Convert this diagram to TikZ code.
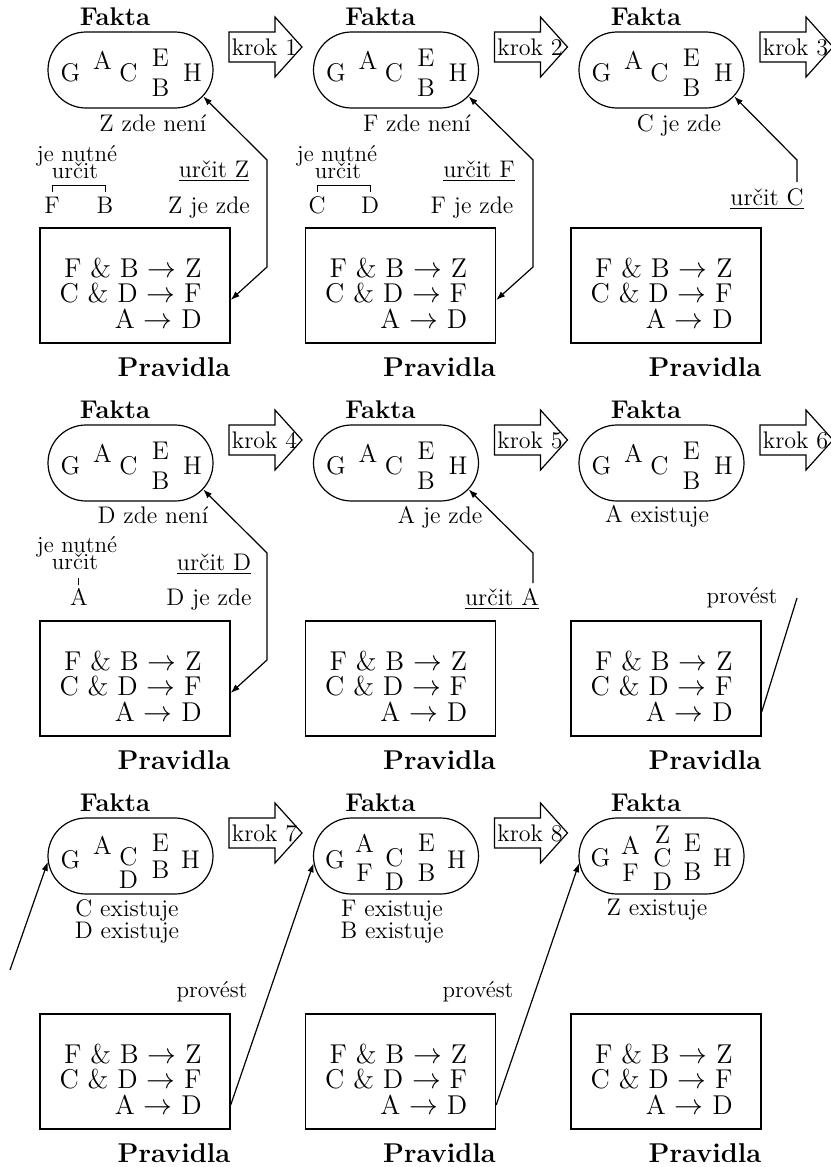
\documentclass[tikz,border=0pt]{standalone}
\usepackage{fontspec}
\usetikzlibrary{arrows.meta,shapes.misc,calc}
\newcommand\putletters[2]{\foreach \ltr/\dxx/\dyy in {#2}{\node[lt] (#1\ltr) at ($(#1)+(\dxx,\dyy)$) {\ltr};}}
\begin{document}
\begin{tikzpicture}[x=0.5pt,y=-0.5pt,
  stadium/.style={draw,line width=0.6pt,rounded rectangle,minimum width=82.5pt,minimum height=38pt,inner sep=0pt},
  rulebox/.style={draw,line width=0.7pt,minimum width=95pt,minimum height=57.5pt,inner sep=0pt},
  rules/.style={align=right,inner sep=0pt,font=\fontsize{13.6}{12.75}\selectfont},
  title/.style={inner sep=0pt,font=\fontsize{12.8}{14}\selectfont\bfseries},
  ptitle/.style={inner sep=0pt,font=\fontsize{13.6}{15}\selectfont\bfseries},
  lt/.style={inner sep=0pt,font=\fontsize{12.8}{14}\selectfont},
  lbl/.style={inner sep=0pt,anchor=base,font=\fontsize{12}{13}\selectfont},
  small/.style={inner sep=0pt,anchor=base,font=\fontsize{11.5}{13}\selectfont},
  kroktxt/.style={inner sep=0pt,font=\fontsize{12}{13}\selectfont},
  krokshape/.style={draw,line width=0.6pt,fill=white},
  conn/.style={line width=0.6pt,>={Latex[length=4.5pt,width=3.2pt]}},
  brk/.style={line width=0.5pt}
]
\useasboundingbox (0,0) rectangle (830,1167);

\foreach \r in {1,2,3}{
 \foreach \c in {1,2,3}{
  \pgfmathsetmacro\ex{130.5+265.5*(\c-1)}
  \pgfmathsetmacro\ey{70+393*(\r-1)}
  \node[stadium] (e\r\c) at (\ex,\ey) {};
  \node[title] (f\r\c) at (\ex-15.5,\ey-53) {Fakta};
  \node[rulebox] (b\r\c) at (\ex+4.5,\ey+215.5) {};
  \node[rules,anchor=east] (rt\r\c) at (\ex+71.5,\ey+223) {F \& B $\rightarrow$ Z\\C \& D $\rightarrow$ F\\A $\rightarrow$ D};
  \node[ptitle] (p\r\c) at (\ex+43.5,\ey+297) {Pravidla};
 }
}

\foreach \n/\r/\c in {1/1/1,2/1/2,3/1/3,4/2/1,5/2/2,6/2/3,7/3/1,8/3/2}{
  \pgfmathsetmacro\bx{229+265.5*(\c-1)}
  \pgfmathsetmacro\cy{47+393*(\r-1)}
  \draw[krokshape] (\bx,\cy-15) -- (\bx+46,\cy-15) -- (\bx+46,\cy-30) -- (\bx+73,\cy) -- (\bx+46,\cy+30) -- (\bx+46,\cy+15) -- (\bx,\cy+15) -- cycle;
  \node[kroktxt] (k\n) at (\bx+35.5,\cy) {krok \n};
}

\putletters{e11}{G/-60/3,A/-28/-10,C/-2/3,E/30/-12,B/30/18,H/62/3}
\putletters{e12}{G/-60/3,A/-28/-10,C/-2/3,E/30/-12,B/30/18,H/62/3}
\putletters{e13}{G/-60/3,A/-28/-10,C/-2/3,E/30/-12,B/30/18,H/62/3}
\putletters{e21}{G/-60/3,A/-28/-10,C/-2/3,E/30/-12,B/30/18,H/62/3}
\putletters{e22}{G/-60/3,A/-28/-10,C/-2/3,E/30/-12,B/30/18,H/62/3}
\putletters{e23}{G/-60/3,A/-28/-10,C/-2/3,E/30/-12,B/30/18,H/62/3}
\putletters{e31}{G/-60/4,A/-28/-11,C/-2/1,D/-2/24,E/30/-13,B/30/14,H/60/4}
\putletters{e32}{G/-61/4,A/-31.5/-13,F/-31.5/17,C/-1.5/2,D/-1.5/26,E/30.5/-13,B/30.5/17,H/60.5/4}
\putletters{e33}{G/-61/2,A/-31/-11,F/-31/17,Z/1/-21,C/1/2,D/1/26,E/31/-13,B/31/16,H/61/2}

% row 1 labels
\node[lbl] (s11) at (153,131) {Z zde není};
\node[lbl] (s12) at (417,131) {F zde není};
\node[lbl] (s13) at (679,131) {C je zde};
\node[small] (n11a) at (77,161) {je nutné};
\node[small] (n11b) at (75,178) {určit};
\node[lbl] (n11F) at (52,213) {F};
\node[lbl] (n11B) at (105,213) {B};
\draw[brk] (52,192) -- (52,185) -- (105,185) -- (105,192);
\node[lbl] (u11) at (214,177) {\underline{určit Z}};
\node[lbl] (z11) at (209,213) {Z je zde};
\node[small] (n12a) at (337,161) {je nutné};
\node[small] (n12b) at (338,178) {určit};
\node[lbl] (n12C) at (317,213) {C};
\node[lbl] (n12D) at (370,213) {D};
\draw[brk] (317,192) -- (317,185) -- (370,185) -- (370,192);
\node[lbl] (u12) at (479,177) {\underline{určit F}};
\node[lbl] (z12) at (472,213) {F je zde};
\node[lbl] (u13) at (767,205) {\underline{určit C}};

% row 2 labels
\node[lbl] (s21) at (153,523) {D zde není};
\node[lbl] (s22) at (440,523) {A je zde};
\node[lbl] (s23) at (657,522) {A existuje};
\node[small] (n21a) at (77,552) {je nutné};
\node[small] (n21b) at (75,569) {určit};
\draw[brk] (78,578) -- (78,585);
\node[lbl] (n21A) at (79,605) {A};
\node[lbl] (u21) at (214,570) {\underline{určit D}};
\node[lbl] (z21) at (209,605) {D je zde};
\node[lbl] (u22) at (502,605) {\underline{určit A}};
\node[small] (pr23) at (742,603) {provést};

% row 3 labels
\node[lbl] (s31a) at (127,916) {C existuje};
\node[lbl] (s31b) at (127,938) {D existuje};
\node[lbl] (s32a) at (392,916) {F existuje};
\node[lbl] (s32b) at (392,938) {B existuje};
\node[lbl] (s33) at (657,915) {Z existuje};
\node[small] (pr31) at (212,997) {provést};
\node[small] (pr32) at (478,997) {provést};

% connectors
\coordinate (c11a) at (267,267); \coordinate (c11b) at (267,160);
\draw[conn,<->] ($(b11.east)+(0,14.5)$) -- (c11a) -- (c11b) -- (e11.-20);
\coordinate (c12a) at (533,267); \coordinate (c12b) at (533,160);
\draw[conn,<->] ($(b12.east)+(0,14.5)$) -- (c12a) -- (c12b) -- (e12.-20);
\coordinate (c21a) at (267,660); \coordinate (c21b) at (267,553);
\draw[conn,<->] ($(b21.east)+(0,14.5)$) -- (c21a) -- (c21b) -- (e21.-20);
\coordinate (c13a) at (797,182); \coordinate (c13b) at (797,160);
\draw[conn,->] (c13a) -- (c13b) -- (e13.-20);
\coordinate (c22a) at (533,583); \coordinate (c22b) at (533,553);
\draw[conn,->] (c22a) -- (c22b) -- (e22.-20);
\coordinate (c23) at (797,598);
\draw[conn] ($(b23.east)+(0,33.5)$) -- (c23);
\coordinate (c31) at (10,970);
\draw[conn,->] (c31) -- (e31.184);
\draw[conn,->] ($(b31.east)+(0,33.5)$) -- (e32.185);
\draw[conn,->] ($(b32.east)+(0,33.5)$) -- (e33.185);
\end{tikzpicture}
\end{document}
